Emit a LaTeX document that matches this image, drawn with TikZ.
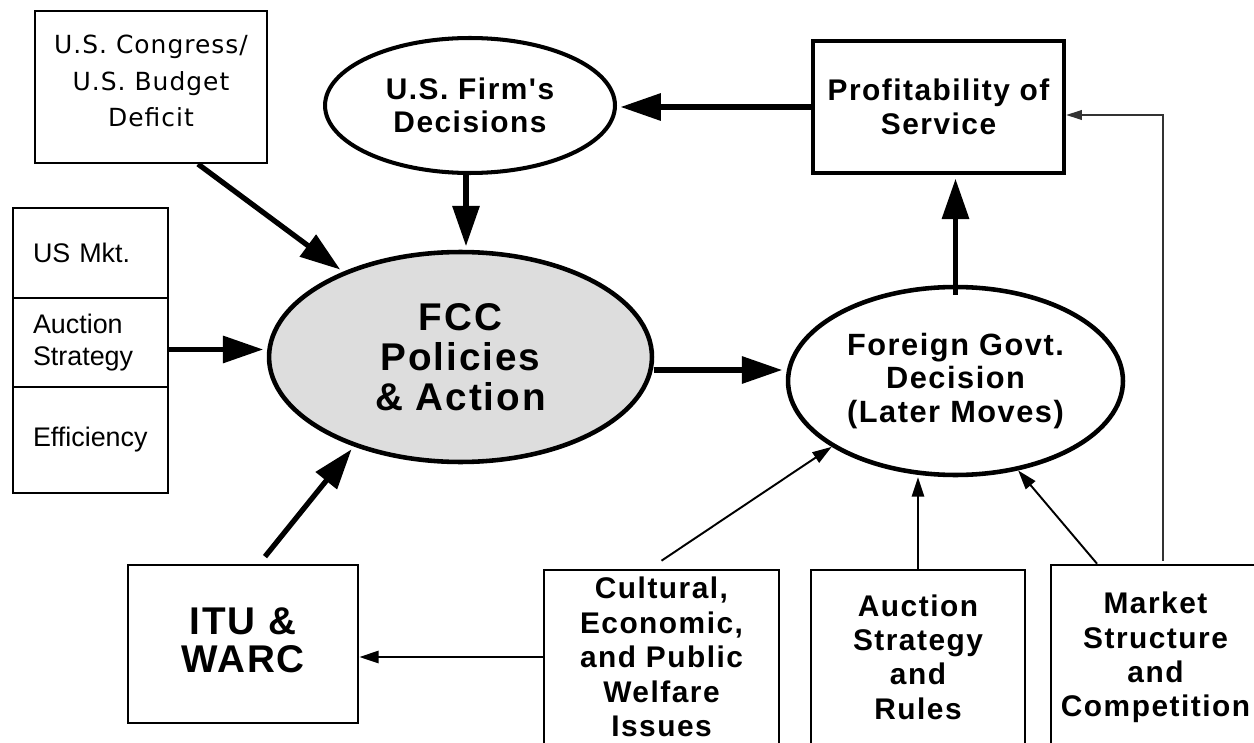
\documentclass[tikz,border=0pt]{standalone}
\usepackage{fontspec}
\setmainfont{Liberation Sans}[Ligatures={TeXOff,NoCommon}]
\newfontfamily\trackedfont{Liberation Sans}[LetterSpace=5, Ligatures={TeXOff,NoCommon}]
\newfontfamily\congressfont{DejaVu Sans}[LetterSpace=4]
\usetikzlibrary{arrows.meta}
\usetikzlibrary{positioning}
\usetikzlibrary{shapes.geometric}
\definecolor{fccgray}{RGB}{221,221,221}
\tikzstyle{plain box}=[draw, line width=1.2pt, align=center, font=\congressfont\fontsize{14.2}{20.6}\selectfont]
\tikzstyle{stack cell}=[draw, line width=1.2pt, outer sep=0pt, minimum width=3.1cm, text width=2.3cm, inner xsep=0.4cm, align=left, font=\fontsize{15.3}{18}\selectfont]
\tikzstyle{decision}=[ellipse, draw, line width=2.6pt, inner sep=0pt, align=center, font=\trackedfont\bfseries\fontsize{17}{18.7}\selectfont]
\tikzstyle{issue}=[draw, line width=1.5pt, inner sep=2pt, align=center, font=\trackedfont\bfseries\fontsize{17}{19.6}\selectfont]
\tikzstyle{big arrow}=[line width=3pt, -{Triangle[length=23pt, width=15pt]}, shorten >=2pt]
\tikzstyle{small arrow}=[line width=1.1pt, -{Triangle[length=11pt, width=7pt]}]
\tikzstyle{feedback}=[line width=1pt, draw=black!80, -{Triangle[length=9pt, width=5.5pt]}]

\begin{document}
\begin{tikzpicture}[x=0.02cm, y=-0.02cm]
  \useasboundingbox (0, 0) rectangle (1254, 743);

  \node[plain box, minimum width=4.64cm, minimum height=3.04cm, text depth=0.25cm] (congress) at (151, 87)
    {U.S. Congress/\\U.S. Budget\\Deficit};
  \node[stack cell, minimum height=1.8cm] (usmkt) at (90.5, 253) {US Mkt.};
  \node[stack cell, minimum height=1.78cm, below=0pt of usmkt] (mktauction) {Auction\\Strategy};
  \node[stack cell, minimum height=2.12cm, below=0pt of mktauction] (efficiency) {Efficiency};

  \node[decision, fill=fccgray, minimum width=7.66cm, minimum height=4.2cm,
    font=\trackedfont\bfseries\fontsize{22}{22.7}\selectfont] (fcc) at (460.5, 357)
    {FCC\\Policies\\\& Action};
  \node[decision, line width=2.3pt, minimum width=5.8cm, minimum height=2.7cm] (firm) at (470, 105.5)
    {U.S. Firm's\\Decisions};
  \node[issue, line width=2.5pt, minimum width=5.02cm, minimum height=2.64cm] (profit) at (938.5, 107)
    {Profitability of\\Service};
  \node[decision, minimum width=6.7cm, minimum height=3.76cm,
    font=\trackedfont\bfseries\fontsize{17.5}{19}\selectfont] (foreign) at (955.5, 381)
    {Foreign Govt.\\Decision\\(Later Moves)};

  \node[issue, line width=1.6pt, minimum width=4.6cm, minimum height=3.16cm, text depth=0.15cm,
    font=\trackedfont\bfseries\fontsize{22}{21.5}\selectfont] (itu) at (243, 644) {ITU \&\\WARC};
  \node[issue, minimum width=4.7cm, minimum height=3.48cm] (culture) at (661.5, 657)
    {Cultural,\\Economic,\\and Public\\Welfare\\Issues};
  \node[issue, minimum width=4.28cm, minimum height=3.48cm] (rules) at (918, 657)
    {Auction\\Strategy\\and\\Rules};
  \node[issue, minimum width=4.18cm, minimum height=3.7cm] (market) at (1155.5, 657.5)
    {Market\\Structure\\and\\Competition};

  \coordinate (stackout) at ([yshift=-0.14cm]mktauction.east);
  \coordinate (fccout) at ([yshift=-0.26cm]fcc.east);
  \coordinate (cultureout) at (culture.west);
  \coordinate (marketout) at ([xshift=0.15cm, yshift=0.06cm]market.north);
  \coordinate (profitin) at ([yshift=-0.16cm]profit.east);

  \draw[big arrow] ([xshift=0.94cm]congress.south) -- (fcc.144);
  \draw[big arrow] (stackout) -- (stackout -| fcc.west);
  \draw[big arrow] ([xshift=-0.08cm]firm.south) -- ([xshift=-0.08cm]firm.south |- fcc.north);
  \draw[big arrow] (profit.west) -- (profit.west -| firm.east);
  \draw[big arrow] ([yshift=-0.2cm]foreign.north) -- (foreign.north |- profit.south);
  \draw[big arrow] (fccout) -- (fccout -| foreign.west);
  \draw[big arrow] ([xshift=0.44cm, yshift=0.14cm]itu.north) -- (fcc.220);

  \draw[small arrow] (cultureout) -- (cultureout -| itu.east);
  \draw[small arrow] ([yshift=0.16cm]culture.north) -- (foreign.208);
  \draw[small arrow] (rules.north) -- (rules.north |- foreign.south);
  \draw[small arrow] ([xshift=-1.17cm]market.north) -- (foreign.305);
  \draw[feedback] (marketout) |- (profitin);
\end{tikzpicture}
\end{document}
